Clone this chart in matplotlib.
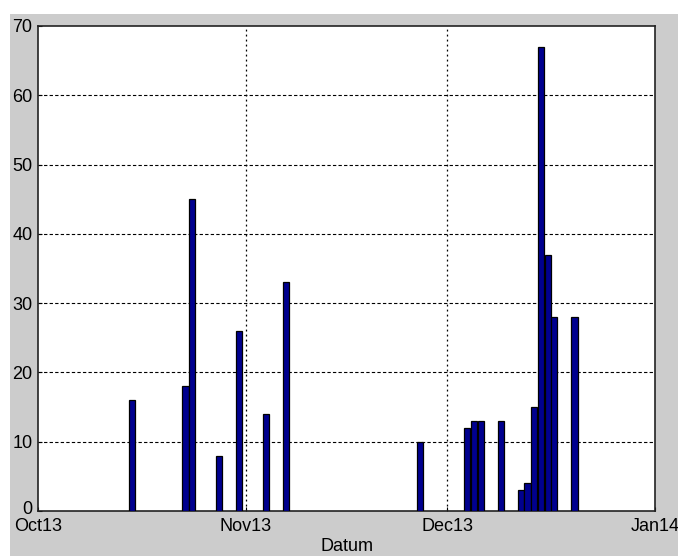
import matplotlib
matplotlib.use("Agg")
import matplotlib.pyplot as plt
import matplotlib.transforms as mtransforms
from matplotlib.patches import Rectangle
import numpy as np
import datetime as dt

# data
dates = ["2013-10-15", "2013-10-23", "2013-10-24", "2013-10-28", "2013-10-31",
         "2013-11-04", "2013-11-07", "2013-11-27", "2013-12-04", "2013-12-05",
         "2013-12-06", "2013-12-09", "2013-12-12", "2013-12-13", "2013-12-14",
         "2013-12-15", "2013-12-16", "2013-12-17", "2013-12-20"]
counts = [16, 18, 45, 8, 26, 14, 33, 10, 12, 13, 13, 13, 3, 4, 15, 67, 37, 28, 28]
tick_dates = ["2013-10-01", "2013-11-01", "2013-12-01", "2014-01-01"]
tick_labels = ["Oct13", "Nov13", "Dec13", "Jan14"]

plt.rcParams['font.family'] = ['Liberation Sans', 'DejaVu Sans']

x = [dt.datetime.strptime(d, "%Y-%m-%d") for d in dates]
xt = [dt.datetime.strptime(d, "%Y-%m-%d") for d in tick_dates]

fig = plt.figure(figsize=(6.78, 5.56), dpi=100, facecolor='white')
# grey figure area (white strip on top and left as in the screenshot)
fig.patches.append(Rectangle((10 / 678, 0), 1, 1 - 14 / 556, transform=fig.transFigure,
                             facecolor='#cccccc', edgecolor='none', zorder=-10))

ax = fig.add_axes([38 / 678, 1 - 511 / 556, 617 / 678, 485 / 556])
ax.bar(x, counts, width=0.92, color='#00008f', edgecolor='black', linewidth=0.9, zorder=3)

ax.set_xlim(xt[0], xt[-1])
ax.set_ylim(0, 70)
ax.set_xticks(xt)
ax.set_xticklabels(tick_labels)
ax.set_yticks(np.arange(0, 71, 10))

for d in xt[1:-1]:
    ax.axvline(d, color='black', linestyle=(0, (1.5, 2.5)), linewidth=0.9, zorder=1)
for v in range(10, 70, 10):
    ax.axhline(v, color='black', linestyle=(0, (3, 2)), linewidth=0.8, zorder=1)

ax.tick_params(direction='in', length=3, labelsize=13, colors='black')
ax.tick_params(axis='x', pad=5)
ax.tick_params(axis='y', pad=4)
for s in ax.spines.values():
    s.set_linewidth(1.2)
    s.set_color('#222222')

# lift the "0" label a little so it sits just above "Oct13"
lbl0 = ax.get_yticklabels()[0]
lbl0.set_transform(lbl0.get_transform() +
                   mtransforms.ScaledTranslation(0, 4 / 100, fig.dpi_scale_trans))

ax.set_xlabel('Datum', fontsize=13, labelpad=2)

fig.savefig('out.png', dpi=100, facecolor=fig.get_facecolor())
